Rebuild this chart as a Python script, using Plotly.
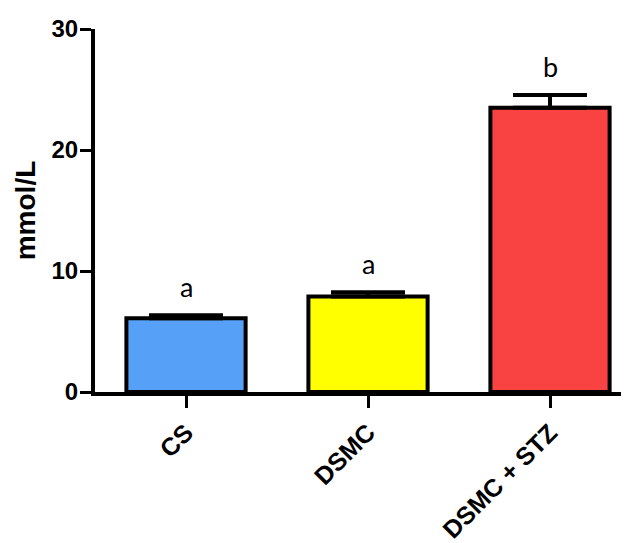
import plotly.graph_objects as go

categories = ["CS", "DSMC", "DSMC + STZ"]
means = [6.1, 7.9, 23.5]
sems = [0.25, 0.35, 1.05]
letters = ["a", "a", "b"]
bar_colors = ["#56A0F8", "#FFFF00", "#F94343"]
y_ticks = [0, 10, 20, 30]

xs = list(range(len(categories)))

fig = go.Figure()
fig.add_trace(go.Bar(
    x=xs, y=means, width=0.655,
    marker=dict(color=bar_colors, line=dict(color="black", width=4)),
    error_y=dict(type="data", array=sems, arrayminus=[0] * len(sems), symmetric=False,
                 color="black", thickness=4, width=37),
    showlegend=False,
))

for x, m, s, t in zip(xs, means, sems, letters):
    fig.add_annotation(x=x, y=m + s, text=t, showarrow=False, yanchor="bottom", yshift=10,
                       font=dict(family="Lato", size=27, color="black"))

# page body has an 8px default margin; margins below compensate for it
fig.update_layout(
    width=629, height=543,
    margin=dict(l=87, r=0, t=21, b=159),
    plot_bgcolor="white", paper_bgcolor="white",
    xaxis=dict(range=[-0.5, 2.478], tickvals=xs, ticktext=["<b>%s</b>" % c for c in categories],
               tickangle=-45, showline=True, linecolor="black", linewidth=4,
               ticks="outside", ticklen=12, tickwidth=3, tickcolor="black",
               tickfont=dict(family="Liberation Sans", size=25, color="black"),
               showgrid=False, zeroline=False, automargin=False),
    yaxis=dict(range=[0, 30], tickvals=y_ticks, ticktext=["<b>%d</b>" % v for v in y_ticks],
               showline=True, linecolor="black", linewidth=4,
               ticks="outside", ticklen=11, tickwidth=3, tickcolor="black",
               ticklabelstandoff=-3,
               tickfont=dict(family="Liberation Sans", size=24, color="black"),
               showgrid=False, zeroline=False, automargin=False,
               title=dict(text="<b>mmol/L</b>", font=dict(family="Liberation Sans", size=28, color="black"),
                          standoff=9)),
)

fig.write_html("out.html")
